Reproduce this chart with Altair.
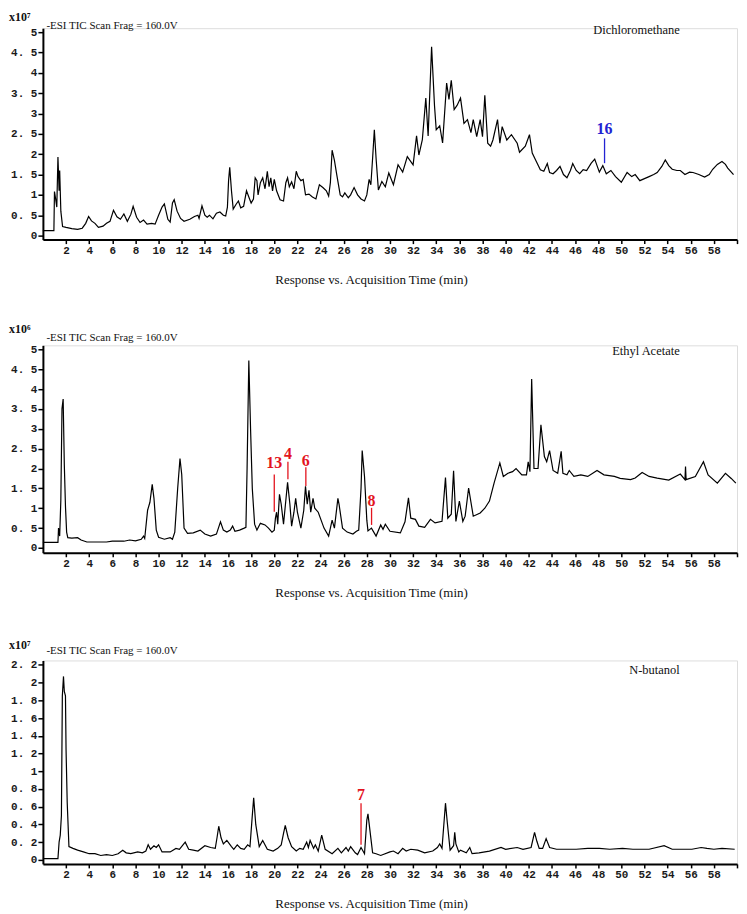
import altair as alt
import pandas as pd

# ---------------- Dichloromethane (x10^7) ----------------
dcm_time = [
    0, 0.95, 1.0, 1.1, 1.2, 1.3, 1.4, 1.45, 1.55, 1.7,
    2.0, 2.5, 3.0, 3.4, 3.7, 3.95, 4.2, 4.5, 4.8, 5.2,
    5.5, 5.8, 6.1, 6.4, 6.7, 7.0, 7.3, 7.6, 7.8, 8.1,
    8.4, 8.7, 9.0, 9.4, 9.7, 10.0, 10.3, 10.5, 10.8, 11.0,
    11.2, 11.35, 11.6, 11.9, 12.2, 12.7, 13.1, 13.4, 13.5, 13.75,
    14.0, 14.2, 14.4, 14.7, 15.0, 15.3, 15.6, 15.8, 15.95, 16.05,
    16.15, 16.3, 16.45, 16.7, 16.9, 17.1, 17.35, 17.6, 17.8, 18.0,
    18.2, 18.35, 18.5, 18.6, 18.8, 19.0, 19.2, 19.4, 19.55, 19.7,
    19.85, 20.0, 20.2, 20.5, 20.8, 21.0, 21.15, 21.3, 21.5, 21.7,
    21.9, 22.05, 22.3, 22.5, 22.7, 23.0, 23.3, 23.6, 23.9, 24.2,
    24.5, 24.7, 24.85, 25.0, 25.2, 25.4, 25.7, 25.9, 26.1, 26.4,
    26.6, 26.9, 27.2, 27.5, 27.8, 28.0, 28.2, 28.35, 28.5, 28.65,
    28.8, 29.0, 29.3, 29.6, 29.9, 30.3, 30.7, 31.1, 31.5, 32.0,
    32.3, 32.5, 32.8, 33.1, 33.3, 33.6, 33.85, 34.0, 34.3, 34.55,
    34.9, 35.1, 35.3, 35.55, 35.8, 36.1, 36.4, 36.7, 37.0, 37.2,
    37.5, 37.8, 38.0, 38.2, 38.45, 38.7, 38.9, 39.3, 39.5, 39.7,
    40.1, 40.5, 41.0, 41.2, 41.7, 42.06, 42.3, 42.6, 43.0, 43.3,
    43.6, 43.8, 44.1, 44.4, 44.7, 45.0, 45.3, 45.6, 45.8, 46.1,
    46.4, 46.7, 47.0, 47.4, 47.7, 48.1, 48.4, 48.7, 49.1, 49.5,
    50.0, 50.5, 50.9, 51.2, 51.6, 52.0, 52.4, 52.8, 53.1, 53.5,
    53.8, 54.1, 54.4, 54.8, 55.1, 55.5, 55.9, 56.2, 56.7, 57.2,
    57.6, 57.9, 58.3, 58.7, 59.0, 59.2, 59.7,
]
dcm_resp = [
    0.12, 0.12, 1.08, 0.9, 0.7, 1.93, 1.1, 1.6, 0.6, 0.22,
    0.2, 0.17, 0.15, 0.18, 0.3, 0.47, 0.36, 0.3, 0.2, 0.23,
    0.3, 0.35, 0.62, 0.46, 0.4, 0.53, 0.35, 0.52, 0.72, 0.45,
    0.32, 0.38, 0.28, 0.3, 0.28, 0.5, 0.7, 0.78, 0.4, 0.33,
    0.8, 0.88, 0.6, 0.42, 0.35, 0.4, 0.47, 0.5, 0.42, 0.73,
    0.5, 0.45, 0.5, 0.41, 0.55, 0.58, 0.5, 0.48, 0.7, 1.35,
    1.68, 1.1, 0.65, 0.77, 0.85, 0.68, 0.72, 1.1, 0.95, 0.8,
    0.9, 1.42, 1.35, 1.0, 1.3, 1.42, 1.15, 1.58, 1.2, 1.42,
    1.1, 1.38, 1.1, 0.88, 0.85, 1.3, 1.42, 1.2, 1.32, 1.15,
    1.58, 1.45, 1.35, 1.38, 1.0, 1.02, 0.95, 0.9, 1.25, 1.18,
    1.1, 0.97, 1.3, 2.1, 1.85, 1.5, 1.0, 0.95, 1.05, 0.93,
    1.0, 1.18, 1.0, 0.9, 0.85, 1.0, 1.38, 1.25, 1.9, 2.6,
    1.9, 1.12, 1.33, 1.2, 1.54, 1.25, 1.74, 1.56, 1.94, 1.74,
    2.45, 1.98, 2.36, 3.38, 2.45, 4.64, 3.2, 2.6, 2.7, 2.28,
    3.75, 3.35, 3.82, 3.1, 3.2, 3.38, 2.76, 2.85, 2.53, 2.85,
    2.43, 2.85, 2.43, 3.45, 2.27, 2.2, 2.35, 2.85, 2.27, 2.68,
    2.35, 2.48, 2.27, 2.05, 2.2, 2.48, 2.03, 1.85, 1.62, 1.58,
    1.77, 1.55, 1.52, 1.6, 1.7, 1.5, 1.42, 1.6, 1.77, 1.6,
    1.52, 1.62, 1.6, 1.78, 1.88, 1.56, 1.72, 1.52, 1.6, 1.45,
    1.31, 1.55, 1.45, 1.5, 1.35, 1.4, 1.45, 1.5, 1.55, 1.7,
    1.86, 1.72, 1.63, 1.6, 1.6, 1.5, 1.56, 1.55, 1.5, 1.44,
    1.5, 1.63, 1.75, 1.82, 1.75, 1.66, 1.5,
]

# ---------------- Ethyl Acetate (x10^6) ----------------
ea_time = [
    0, 1.3, 1.35, 1.45, 1.55, 1.65, 1.75, 1.85, 1.95, 2.05,
    2.15, 2.5, 3.0, 3.3, 3.8, 5.5, 6.0, 7.0, 7.5, 8.0,
    8.5, 8.7, 8.8, 9.05, 9.25, 9.45, 9.6, 9.8, 10.0, 10.5,
    11.0, 11.2, 11.4, 11.65, 11.85, 12.0, 12.2, 12.5, 13.0, 13.6,
    14.0, 14.5, 15.0, 15.35, 15.6, 15.9, 16.2, 16.4, 16.6, 17.0,
    17.4, 17.55, 17.65, 17.8, 17.95, 18.1, 18.3, 18.5, 18.8, 19.2,
    19.5, 19.8, 20.0, 20.1, 20.2, 20.3, 20.45, 20.6, 20.8, 21.0,
    21.15, 21.35, 21.5, 21.7, 21.85, 22.0, 22.3, 22.55, 22.7, 22.85,
    23.0, 23.15, 23.35, 23.5, 23.8, 24.3, 24.7, 25.0, 25.2, 25.5,
    25.6, 25.9, 26.3, 26.8, 27.1, 27.3, 27.5, 27.6, 27.8, 28.0,
    28.1, 28.4, 28.8, 29.2, 29.4, 29.6, 30.0, 30.9, 31.3, 31.6,
    31.8, 32.2, 32.5, 33.0, 33.5, 33.9, 34.5, 34.8, 35.0, 35.3,
    35.5, 35.7, 36.0, 36.3, 36.5, 36.8, 37.2, 37.8, 38.2, 38.6,
    39.0, 39.5, 39.8, 40.2, 40.6, 40.9, 41.4, 41.8, 41.95, 42.1,
    42.25, 42.45, 42.8, 43.05, 43.35, 43.55, 43.8, 44.1, 44.5, 44.8,
    44.95, 45.3, 45.5, 45.9, 46.5, 47.1, 47.9, 48.5, 49.4, 49.9,
    50.8, 51.2, 51.8, 52.4, 53.1, 54.1, 55.1, 55.5, 55.55, 55.6,
    56.4, 57.1, 57.5, 58.3, 59.0, 59.5, 59.9,
]
ea_resp = [
    0.14, 0.14, 0.5, 0.3, 1.2, 3.5, 3.75, 2.1, 1.05, 0.4,
    0.26, 0.25, 0.26, 0.2, 0.15, 0.15, 0.17, 0.17, 0.2, 0.18,
    0.22, 0.3, 0.24, 0.95, 1.15, 1.6, 1.25, 0.45, 0.27, 0.22,
    0.26, 0.22, 0.4, 1.5, 2.25, 1.85, 0.5, 0.37, 0.38, 0.45,
    0.35, 0.3, 0.35, 0.66, 0.45, 0.4, 0.45, 0.55, 0.42, 0.45,
    0.5, 0.52, 2.0, 4.72, 3.0, 1.5, 0.6, 0.45, 0.62, 0.58,
    0.5, 0.4, 0.45, 0.75, 0.9, 0.6, 1.35, 1.1, 0.6, 1.2,
    1.65, 1.1, 0.55, 0.9, 1.25, 0.9, 0.5, 0.95, 1.55, 1.1,
    1.45, 0.9, 1.25, 1.0, 0.9, 0.5, 0.3, 0.7, 0.5, 1.25,
    1.1, 0.5, 0.4, 0.35, 0.42, 0.45, 1.5, 2.45, 1.8, 0.7,
    0.43, 0.5, 0.3, 0.58, 0.47, 0.6, 0.42, 0.38, 0.66, 1.26,
    0.75, 0.72, 0.55, 0.52, 0.72, 0.63, 0.67, 1.77, 0.75, 0.85,
    1.94, 0.67, 1.18, 0.67, 0.8, 1.51, 0.8, 0.88, 1.0, 1.18,
    1.63, 2.14, 1.8, 1.88, 1.92, 2.0, 1.84, 1.84, 2.17, 1.92,
    4.25, 2.0, 2.0, 3.1, 2.3, 2.17, 2.45, 1.95, 1.88, 2.43,
    1.88, 1.84, 1.95, 1.8, 1.84, 1.8, 1.95, 1.84, 1.8, 1.75,
    1.72, 1.76, 1.9, 1.8, 1.76, 1.71, 1.86, 1.72, 2.05, 1.72,
    1.8, 2.17, 1.84, 1.63, 1.88, 1.75, 1.63,
]

# ---------------- N-butanol (x10^7) ----------------
bu_time = [
    0, 1.3, 1.4, 1.5, 1.6, 1.68, 1.78, 1.85, 1.95, 2.0,
    2.1, 2.25, 2.6, 3.0, 3.5, 4.0, 4.5, 5.0, 5.5, 6.0,
    6.5, 6.9, 7.2, 7.6, 8.2, 8.6, 8.9, 9.1, 9.3, 9.6,
    9.8, 10.0, 10.3, 11.0, 11.5, 11.8, 12.3, 12.6, 13.0, 13.4,
    14.0, 14.5, 14.9, 15.05, 15.2, 15.4, 15.6, 15.9, 16.3, 16.5,
    16.8, 17.1, 17.4, 17.7, 17.9, 18.1, 18.22, 18.4, 18.7, 19.0,
    19.4, 19.9, 20.3, 20.6, 20.8, 20.95, 21.2, 21.5, 21.9, 22.2,
    22.5, 22.8, 22.95, 23.1, 23.4, 23.55, 23.8, 24.1, 24.4, 25.0,
    25.5, 25.8, 26.2, 26.4, 26.6, 27.0, 27.2, 27.5, 27.8, 28.0,
    28.1, 28.3, 28.5, 28.8, 29.2, 30.0, 30.3, 30.7, 31.1, 31.4,
    31.8, 32.4, 33.0, 33.7, 34.1, 34.3, 34.5, 34.7, 34.8, 34.95,
    35.2, 35.5, 35.6, 35.7, 35.95, 36.1, 36.6, 36.9, 37.1, 37.7,
    38.6, 39.6, 40.0, 41.0, 41.5, 42.2, 42.5, 42.7, 42.9, 43.2,
    43.5, 43.8, 44.4, 46.1, 47.1, 48.1, 49.0, 50.1, 51.0, 52.4,
    53.7, 54.4, 56.1, 56.9, 57.4, 58.0, 58.7, 59.8,
]
bu_resp = [
    0.015, 0.015, 0.2, 0.28, 0.5, 1.85, 2.07, 1.9, 1.85, 1.25,
    0.65, 0.15, 0.13, 0.11, 0.09, 0.07, 0.07, 0.05, 0.06, 0.05,
    0.07, 0.11, 0.08, 0.07, 0.09, 0.08, 0.1, 0.17, 0.12, 0.16,
    0.14, 0.17, 0.09, 0.09, 0.13, 0.12, 0.2, 0.12, 0.11, 0.1,
    0.16, 0.14, 0.13, 0.25, 0.38, 0.25, 0.18, 0.22, 0.15, 0.12,
    0.17, 0.13, 0.12, 0.17, 0.15, 0.5, 0.7, 0.4, 0.15, 0.22,
    0.12, 0.1, 0.13, 0.17, 0.3, 0.39, 0.25, 0.15, 0.1, 0.13,
    0.12, 0.2, 0.14, 0.22, 0.13, 0.17, 0.1, 0.28, 0.12, 0.07,
    0.13, 0.08, 0.14, 0.1, 0.15, 0.08, 0.06, 0.14, 0.07, 0.45,
    0.52, 0.3, 0.08, 0.07, 0.05, 0.09, 0.1, 0.07, 0.13, 0.1,
    0.12, 0.11, 0.08, 0.1, 0.14, 0.18, 0.13, 0.47, 0.64, 0.43,
    0.11, 0.16, 0.31, 0.18, 0.09, 0.11, 0.08, 0.14, 0.07, 0.08,
    0.1, 0.14, 0.12, 0.14, 0.12, 0.14, 0.31, 0.21, 0.13, 0.13,
    0.24, 0.14, 0.12, 0.12, 0.13, 0.13, 0.12, 0.13, 0.12, 0.12,
    0.16, 0.12, 0.12, 0.14, 0.13, 0.12, 0.13, 0.12,
]

# ---------------- annotations ----------------
dcm_ann_label = ["16"]
dcm_ann_time = [48.55]
dcm_ann_top = [2.39]
dcm_ann_bottom = [1.78]
dcm_ann_text_y = [2.61]

ea_ann_label = ["13", "4", "6", "8"]
ea_ann_time = [20.0, 21.18, 22.73, 28.41]
ea_ann_top = [1.85, 2.17, 2.03, 1.01]
ea_ann_bottom = [0.91, 1.73, 1.56, 0.58]
ea_ann_text_y = [2.14, 2.37, 2.18, 1.17]

bu_ann_label = ["7"]
bu_ann_time = [27.5]
bu_ann_top = [0.64]
bu_ann_bottom = [0.17]
bu_ann_text_y = [0.73]

x_ticks = list(range(2, 61, 2))
header_text = "-ESI TIC Scan Frag = 160.0V"
x_title = "Response vs. Acquisition Time (min)"

SERIF = "Liberation Serif"
MONO = "Liberation Mono"


def panel(times, resps, ydomain, yticks, ytitle, ytitle_y, name, name_y,
          esi_y, labels, atimes, atop, abottom, atext, acolor, height):
    df = pd.DataFrame({"t": times, "v": resps})
    ann = pd.DataFrame({"label": labels, "t": atimes, "top": atop,
                        "bottom": abottom, "ty": atext})
    xscale = alt.Scale(domain=[0, 60], nice=False, zero=False)
    yscale = alt.Scale(domain=ydomain, nice=False, zero=False)
    xaxis = alt.Axis(
        values=x_ticks,
        labelExpr="datum.value == 60 ? '' : datum.label",
        labelOverlap=False, labelSeparation=0, labelBound=False,
        title=x_title, titleFont=SERIF, titleFontSize=13,
        titleFontWeight="normal", titleColor="#111", titleX=329,
        titlePadding=18,
        labelFont=MONO, labelFontWeight="bold", labelFontSize=11,
        labelColor="#1a1a1a", labelPadding=1, labelFlush=False,
        tickSize=4, tickWidth=1.5, tickColor="black",
        domainWidth=2, domainColor="black", grid=False,
    )
    yaxis = alt.Axis(
        values=yticks,
        labelExpr="replace(format(datum.value, '.2~f'), '.', '. ')",
        labelOverlap=False, labelSeparation=0, labelBound=False,
        title=ytitle, titleAngle=0, titleX=-34.5, titleY=ytitle_y,
        titleAlign="left", titleBaseline="middle", titleFont=SERIF,
        titleFontWeight="bold", titleFontSize=12, titleColor="#111",
        labelFont=MONO, labelFontWeight="bold", labelFontSize=11,
        labelColor="#1a1a1a", labelPadding=1, labelFlush=False,
        tickSize=5, tickWidth=1.5, tickColor="black",
        domainWidth=2, domainColor="black", grid=False,
    )
    line = alt.Chart(df).mark_line(color="black", strokeWidth=1.2).encode(
        x=alt.X("t:Q", scale=xscale, axis=xaxis),
        y=alt.Y("v:Q", scale=yscale, axis=yaxis),
    )
    rules = alt.Chart(ann).mark_rule(color=acolor, strokeWidth=1.3).encode(
        x=alt.X("t:Q", scale=xscale, axis=xaxis),
        y=alt.Y("top:Q", scale=yscale, axis=yaxis), y2="bottom:Q")
    texts = alt.Chart(ann).mark_text(
        color=acolor, font=SERIF, fontWeight="bold", fontSize=16,
        baseline="middle", align="center").encode(
        x=alt.X("t:Q", scale=xscale, axis=xaxis),
        y=alt.Y("ty:Q", scale=yscale, axis=yaxis), text="label:N")
    hdr = alt.Chart(pd.DataFrame({"txt": [header_text]})).mark_text(
        align="left", baseline="middle", font=SERIF, fontSize=11,
        color="#111").encode(x=alt.value(3.5), y=alt.value(esi_y),
                             text="txt:N")
    nm = alt.Chart(pd.DataFrame({"txt": [name]})).mark_text(
        align="right", baseline="middle", font=SERIF, fontSize=12.5,
        color="#111").encode(x=alt.value(638.5), y=alt.value(name_y),
                             text="txt:N")
    return alt.layer(line, rules, texts, hdr, nm).properties(
        width=696, height=height)


p1 = panel(dcm_time, dcm_resp, [-0.1, 5.1],
           [0, 0.5, 1, 1.5, 2, 2.5, 3, 3.5, 4, 4.5, 5],
           "x10\u2077", -12, "Dichloromethane", 2, -2,
           dcm_ann_label, dcm_ann_time, dcm_ann_top, dcm_ann_bottom,
           dcm_ann_text_y, "#2323d2", 212)
p2 = panel(ea_time, ea_resp, [-0.12, 5.1],
           [0, 0.5, 1, 1.5, 2, 2.5, 3, 3.5, 4, 4.5, 5],
           "x10\u2076", -17, "Ethyl Acetate", 6, -7,
           ea_ann_label, ea_ann_time, ea_ann_top, ea_ann_bottom,
           ea_ann_text_y, "#e3141e", 208)
p3 = panel(bu_time, bu_resp, [-0.045, 2.25],
           [0, 0.2, 0.4, 0.6, 0.8, 1, 1.2, 1.4, 1.6, 1.8, 2, 2.2],
           "x10\u2077", -15.5, "N-butanol", 10, -9.5,
           bu_ann_label, bu_ann_time, bu_ann_top, bu_ann_bottom,
           bu_ann_text_y, "#e3141e", 204)

top_two = alt.vconcat(p1, p2, spacing=34)
chart = alt.vconcat(top_two, p3, spacing=38).properties(
    padding={"left": 0, "top": 0, "right": 0, "bottom": 0}
).configure_view(stroke=None).configure(
    background="white"
).configure_axis(labelOverlap=False, labelSeparation=0)

chart.save("out.html", embed_options={"renderer": "svg", "actions": False})
